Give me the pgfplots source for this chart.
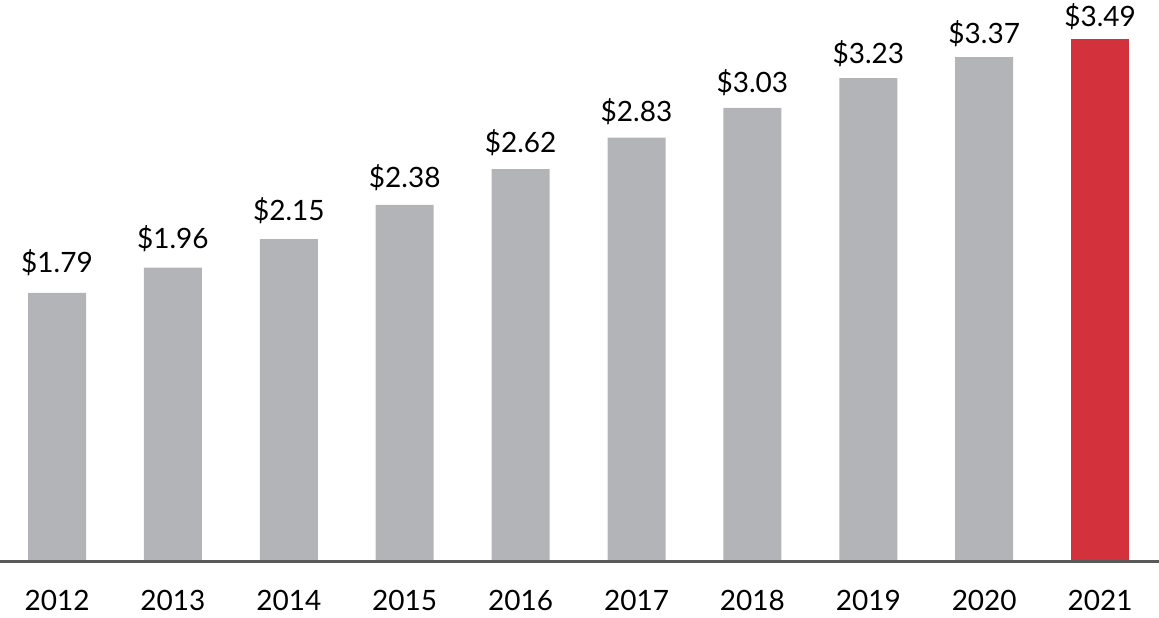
\documentclass[border=0pt]{standalone}
\usepackage{pgfplots}
\pgfplotsset{compat=1.18}
\usepackage{fontspec}
\setmainfont{Lato}
\definecolor{bargray}{HTML}{B3B4B8}
\definecolor{barred}{HTML}{D3313B}
\definecolor{axisgray}{HTML}{58595B}
\begin{document}
\begin{tikzpicture}[x=1pt,y=1pt]
\useasboundingbox (0,-42.49) rectangle (869.25,421.0);
\begin{axis}[
  at={(0,0)}, anchor=south west,
  scale only axis,
  width=869.25pt, height=421.0pt,
  xmin=-0.492, xmax=9.508,
  ymin=-0.009, ymax=3.753,
  axis x line=bottom,
  axis y line=none,
  separate axis lines,
  axis line style={-, draw=axisgray, line width=2pt},
  x axis line style={-, draw=axisgray, line width=2pt},
  xtick={0,...,9},
  xticklabels={2012,2013,2014,2015,2016,2017,2018,2019,2020,2021},
  major tick length=0pt,
  xticklabel style={anchor=base, yshift=-36.5pt, font=\fontsize{21}{24}\selectfont},
  ytick=\empty,
  ybar, bar width=43.5pt, bar shift=0pt,
  nodes near coords={\$\pgfmathprintnumber[fixed,fixed zerofill,precision=2]{\pgfplotspointmeta}},
  nodes near coords style={anchor=base, yshift={(15-3.075*(\pgfkeysvalueof{/data point/y}-1.79))*1pt}, font=\fontsize{21}{24}\selectfont, text=black},
  /pgf/number format/assume math mode=true,
  clip=false,
]
\addplot[fill=bargray, draw=none] coordinates {
 (0,1.79) (1,1.96) (2,2.15) (3,2.38) (4,2.62) (5,2.83) (6,3.03) (7,3.23) (8,3.37)};
\addplot[fill=barred, draw=none] coordinates {(9,3.49)};
\end{axis}
\end{tikzpicture}
\end{document}
